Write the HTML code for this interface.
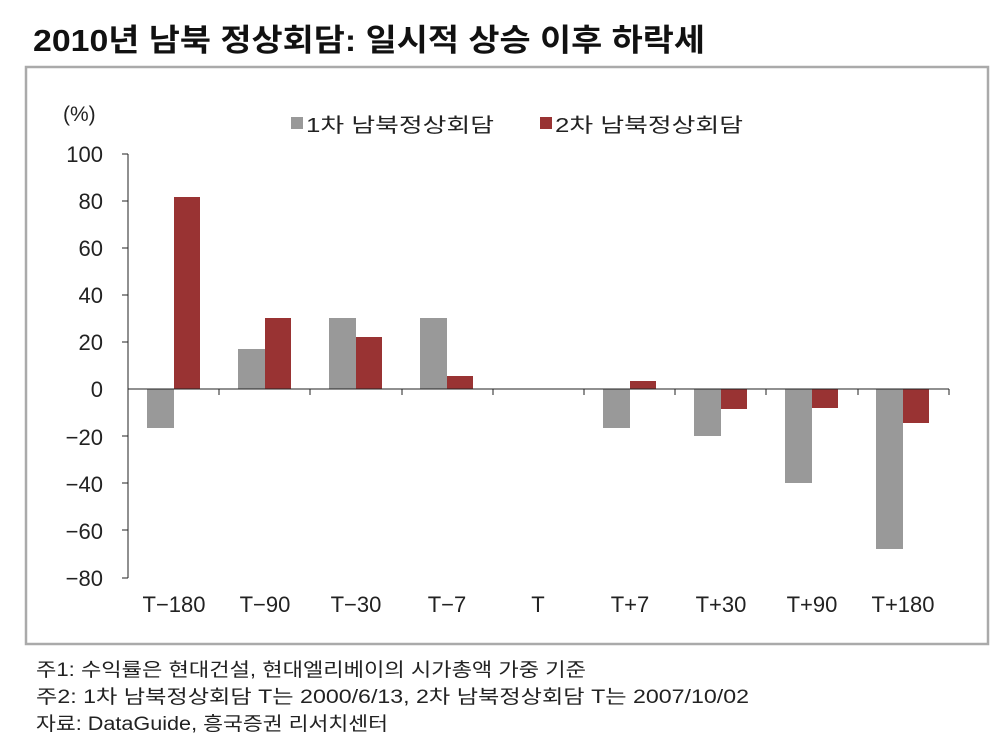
<!DOCTYPE html>
<html><head><meta charset="utf-8"><style>body{margin:0;background:#fff}svg{display:block}text{font-family:"Liberation Sans","Noto Sans CJK KR",sans-serif}</style></head><body>
<svg width="997" height="740" viewBox="0 0 997 740" xmlns="http://www.w3.org/2000/svg">
<rect width="997" height="740" fill="#fff"/>
<text x="33" y="51" font-size="31" font-weight="bold" font-family="Noto Sans CJK KR, sans-serif" textLength="672" lengthAdjust="spacingAndGlyphs" fill="#111">2010년 남북 정상회담: 일시적 상승 이후 하락세</text>
<rect x="26" y="67" width="962" height="577" fill="none" stroke="#aaa" stroke-width="2.5"/>
<text x="63" y="121" font-size="21" fill="#222">(%)</text>
<rect x="291" y="117" width="12" height="12" fill="#999"/>
<text x="306" y="132" font-size="20" fill="#222" textLength="188" lengthAdjust="spacingAndGlyphs">1차 남북정상회담</text>
<rect x="540" y="117" width="12" height="12" fill="#933"/>
<text x="555" y="132" font-size="20" fill="#222" textLength="188" lengthAdjust="spacingAndGlyphs">2차 남북정상회담</text>
<g font-size="22" fill="#222" text-anchor="end">
<text x="103" y="162">100</text><text x="103" y="209">80</text><text x="103" y="256">60</text><text x="103" y="303">40</text><text x="103" y="350">20</text><text x="103" y="397">0</text><text x="103" y="445">−20</text><text x="103" y="492">−40</text><text x="103" y="539">−60</text><text x="103" y="586">−80</text>
</g>
<g stroke="#222" stroke-width="1">
<line x1="128" y1="154" x2="128" y2="578"/>
<line x1="122" y1="154" x2="128" y2="154"/><line x1="122" y1="201" x2="128" y2="201"/><line x1="122" y1="248" x2="128" y2="248"/><line x1="122" y1="295" x2="128" y2="295"/><line x1="122" y1="342" x2="128" y2="342"/><line x1="122" y1="436" x2="128" y2="436"/><line x1="122" y1="483" x2="128" y2="483"/><line x1="122" y1="530" x2="128" y2="530"/><line x1="122" y1="578" x2="128" y2="578"/>
</g>
<g fill="#999">
<rect x="147" y="389" width="27" height="39"/>
<rect x="238" y="349" width="27" height="40"/>
<rect x="329" y="318" width="27" height="71"/>
<rect x="420" y="318" width="27" height="71"/>
<rect x="603" y="389" width="27" height="39"/>
<rect x="694" y="389" width="27" height="47"/>
<rect x="785" y="389" width="27" height="94"/>
<rect x="876" y="389" width="27" height="160"/>
</g>
<g fill="#933">
<rect x="174" y="197" width="26" height="192"/>
<rect x="265" y="318" width="26" height="71"/>
<rect x="356" y="337" width="26" height="52"/>
<rect x="447" y="376" width="26" height="13"/>
<rect x="630" y="381" width="26" height="8"/>
<rect x="721" y="389" width="26" height="20"/>
<rect x="812" y="389" width="26" height="19"/>
<rect x="903" y="389" width="26" height="34"/>
</g>
<g stroke="#222" stroke-width="1">
<line x1="128" y1="389" x2="949" y2="389"/>
<line x1="219" y1="389" x2="219" y2="395"/><line x1="310" y1="389" x2="310" y2="395"/><line x1="402" y1="389" x2="402" y2="395"/><line x1="493" y1="389" x2="493" y2="395"/><line x1="584" y1="389" x2="584" y2="395"/><line x1="675" y1="389" x2="675" y2="395"/><line x1="766" y1="389" x2="766" y2="395"/><line x1="858" y1="389" x2="858" y2="395"/><line x1="949" y1="389" x2="949" y2="395"/>
</g>
<g font-size="22" fill="#222" text-anchor="middle">
<text x="174" y="612">T−180</text><text x="265" y="612">T−90</text><text x="356" y="612">T−30</text><text x="447" y="612">T−7</text><text x="538" y="612">T</text><text x="630" y="612">T+7</text><text x="721" y="612">T+30</text><text x="812" y="612">T+90</text><text x="903" y="612">T+180</text>
</g>
<g font-size="19" fill="#222">
<text x="36" y="676" textLength="550" lengthAdjust="spacingAndGlyphs">주1: 수익률은 현대건설, 현대엘리베이의 시가총액 가중 기준</text>
<text x="36" y="703" textLength="713" lengthAdjust="spacingAndGlyphs">주2: 1차 남북정상회담 T는 2000/6/13, 2차 남북정상회담 T는 2007/10/02</text>
<text x="36" y="730" textLength="352" lengthAdjust="spacingAndGlyphs">자료: DataGuide, 흥국증권 리서치센터</text>
</g>
</svg>
</body></html>
